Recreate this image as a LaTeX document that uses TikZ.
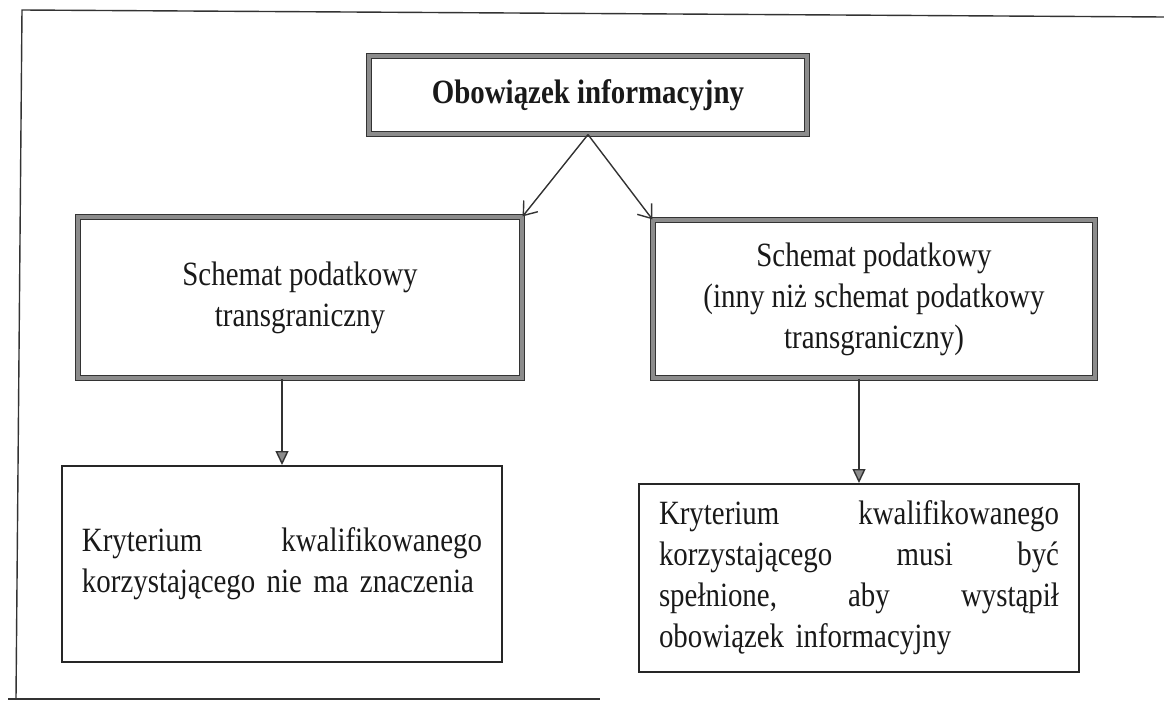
\documentclass[tikz,border=0pt]{standalone}
\usepackage{fontspec}
\setmainfont[FakeStretch=0.85]{Liberation Serif}
\usetikzlibrary{positioning,arrows.meta}
\setlength{\parindent}{0pt}

\tikzset{
  heavybox/.style={draw=black!80, double=black!45, double distance=1.6pt,
    line width=0.6pt, align=center, inner sep=0pt, text=black!90,
    font=\fontsize{17}{20.5}\selectfont},
  thinbox/.style={draw=black!85, line width=1pt, text width=200pt,
    align=left, inner xsep=10pt, inner ysep=0pt, text=black!90,
    font=\fontsize{17}{20.5}\selectfont},
  stick/.style={draw=black!80, line width=0.7pt,
    -{Straight Barb[length=6pt,width=9pt]}},
  tri/.style={draw=black!80, line width=0.7pt,
    -{Triangle[length=7pt,width=6.5pt,fill=black!45]}},
}

\begin{document}
\begin{tikzpicture}[x=0.5pt,y=-0.5pt]
	\useasboundingbox (0,0) rectangle (1164,701);

	% page frame
	\draw[black!80, line width=0.7pt] (1164,17) -- (22,10) -- (16,699);
	\draw[black!80, line width=0.7pt] (8,699) -- (600,699);

	\node[heavybox, minimum width=219pt, minimum height=39pt,
		font=\fontsize{17}{20.5}\selectfont\bfseries] (obow) at (588,95)
		{Obowiązek informacyjny};

	\node[heavybox, minimum width=222pt, minimum height=80.5pt] (trans) at (300,297.5)
		{Schemat podatkowy\\transgraniczny};
	\node[heavybox, minimum width=221pt, minimum height=79pt] (inny) at (874,299)
		{Schemat podatkowy\\(inny niż schemat podatkowy\\transgraniczny)};

	\node[thinbox, minimum height=98pt] (bezkryt) at (282,564)
		{Kryterium\hfill kwalifikowanego\\korzystającego nie ma znaczenia};
	\node[thinbox, minimum height=94pt] (kryt) at (859,578)
		{Kryterium\hfill kwalifikowanego\\korzystającego\hfill musi\hfill być\\spełnione,\hfill aby\hfill wystąpił\\obowiązek informacyjny};

	\draw[stick] (obow.south) -- (trans.north east);
	\draw[stick] (obow.south) -- (inny.north west);

	\draw[tri] (trans.south -| bezkryt.north) -- (bezkryt.north);
	\draw[tri] (inny.south -| kryt.north) -- (kryt.north);
\end{tikzpicture}
\end{document}
